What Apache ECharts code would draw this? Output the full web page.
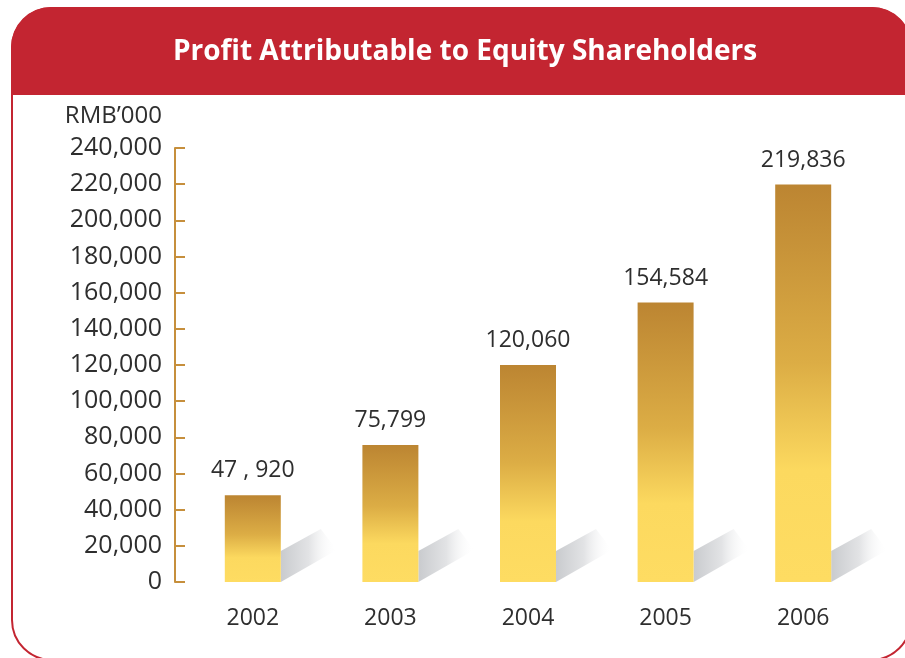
<!DOCTYPE html>
<html>
<head>
<meta charset="utf-8">
<script src="https://cdn.jsdelivr.net/npm/echarts@6/dist/echarts.min.js"></script>
<style>
  html, body { margin: 0; padding: 0; background: #fff; }
  #chart { width: 905px; height: 658px; }
</style>
</head>
<body>
<div id="chart"></div>
<script>
var years = ["2002", "2003", "2004", "2005", "2006"];
var profit = [47920, 75799, 120060, 154584, 219836];
var profitLabels = ["47 , 920", "75,799", "120,060", "154,584", "219,836"];

var red = "#c32531";
var gold = "#c68f3c";
var txt = "#2e2e2e";
var font = "'Open Sans', 'Noto Sans', sans-serif";

var chart = echarts.init(document.getElementById("chart"));
chart.setOption({
  backgroundColor: "#ffffff",
  animation: false,
  graphic: [
    {
      type: "rect",
      z: -10,
      shape: { x: 12, y: 8, width: 899, height: 652, r: 40 },
      style: { fill: "#ffffff", stroke: red, lineWidth: 2 }
    },
    {
      type: "rect",
      z: -9,
      shape: { x: 11, y: 7, width: 901, height: 88, r: [40, 40, 0, 0] },
      style: { fill: red }
    },
    {
      type: "text",
      z: -8,
      x: 465,
      y: 52,
      style: {
        text: "Profit Attributable to Equity Shareholders",
        fill: "#ffffff",
        font: "bold 28px " + font,
        align: "center",
        verticalAlign: "middle"
      }
    }
  ],
  grid: {
    left: 184,
    right: 33,
    top: 148,
    bottom: 76
  },
  xAxis: {
    type: "category",
    data: years,
    axisLine: { show: false },
    axisTick: { show: false },
    axisLabel: {
      color: txt,
      fontSize: 23,
      fontFamily: font,
      margin: 25
    }
  },
  yAxis: {
    type: "value",
    min: 0,
    max: 240000,
    interval: 20000,
    offset: 9,
    name: "RMB’000",
    nameGap: 20,
    nameTextStyle: {
      color: txt,
      fontSize: 24,
      fontFamily: font,
      align: "right",
      padding: [0, 13, 0, 0]
    },
    axisLine: { show: true, lineStyle: { color: gold, width: 2 } },
    axisTick: { show: true, inside: true, length: 10, lineStyle: { color: gold, width: 2 } },
    splitLine: { show: false },
    axisLabel: {
      color: txt,
      fontSize: 25,
      fontFamily: font,
      margin: 13,
      formatter: function (v) {
        return v.toLocaleString("en-US");
      }
    }
  },
  series: [
    {
      type: "custom",
      z: 1,
      silent: true,
      data: profit.map(function (v, i) { return [i, v]; }),
      renderItem: function (params, api) {
        var p = api.coord([api.value(0), 0]);
        var xr = p[0] + 28;
        var y0 = p[1];
        return {
          type: "polygon",
          shape: {
            points: [
              [xr, y0 - 31],
              [xr + 40, y0 - 53],
              [xr + 56, y0 - 32],
              [xr, y0]
            ]
          },
          style: {
            fill: new echarts.graphic.LinearGradient(0, 0, 1, 0, [
              { offset: 0, color: "#c9cbce" },
              { offset: 0.5, color: "#e2e3e5" },
              { offset: 1, color: "rgba(255,255,255,0)" }
            ])
          }
        };
      }
    },
    {
      type: "bar",
      z: 2,
      barWidth: 56,
      data: profit,
      itemStyle: {
        color: new echarts.graphic.LinearGradient(0, 0, 0, 1, [
          { offset: 0, color: "#bc8532" },
          { offset: 0.45, color: "#dcad45" },
          { offset: 0.72, color: "#fcd95f" },
          { offset: 1, color: "#fedc62" }
        ])
      },
      label: {
        show: true,
        position: "top",
        distance: 13,
        color: txt,
        fontSize: 23,
        fontFamily: font,
        formatter: function (p) {
          return profitLabels[p.dataIndex];
        }
      }
    }
  ]
});
</script>
</body>
</html>
